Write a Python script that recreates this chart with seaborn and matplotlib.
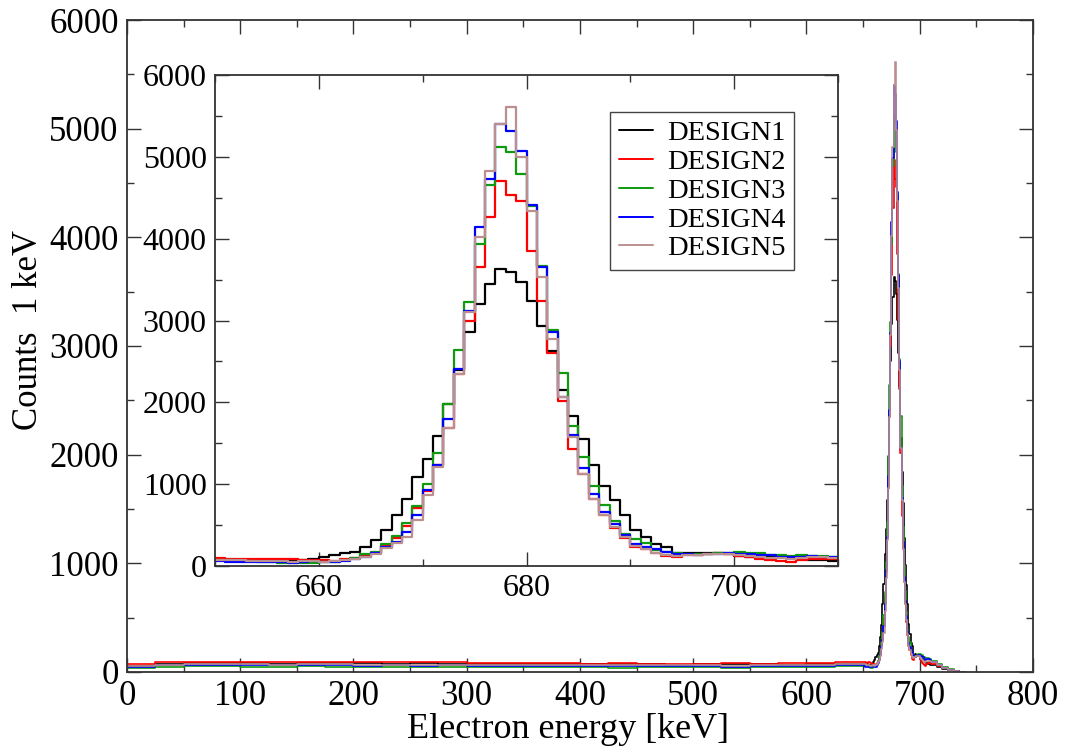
import numpy as np
import pandas as pd
import matplotlib
matplotlib.use("Agg")
import matplotlib.pyplot as plt
from matplotlib.lines import Line2D
from matplotlib.ticker import MultipleLocator
import seaborn as sns

# ---------------- data ----------------
designs = ["DESIGN1", "DESIGN2", "DESIGN3", "DESIGN4", "DESIGN5"]
colors = ["#000000", "#ff0000", "#0f9a0f", "#0000ff", "#bc8f8f"]

# coarse baseline, 25 keV bins from 0 to 650 keV (counts per keV)
base_edges = list(range(0, 651, 25))
base_d1 = [55, 75, 80, 82, 80, 78, 80, 82, 80, 78, 80, 78, 75, 75, 72, 70, 72, 70, 70, 68, 70, 72, 70, 68, 70, 72]
base_d2 = [70, 90, 95, 92, 95, 90, 92, 95, 90, 88, 90, 88, 85, 82, 80, 80, 78, 80, 78, 75, 78, 80, 78, 82, 85, 90]
base_d3 = [40, 50, 55, 52, 50, 48, 52, 50, 48, 45, 50, 48, 45, 45, 42, 45, 42, 40, 42, 45, 42, 40, 45, 42, 45, 55]
base_d4 = [50, 62, 65, 62, 60, 62, 60, 62, 58, 60, 58, 60, 55, 58, 55, 55, 52, 55, 52, 55, 52, 50, 55, 52, 55, 60]
base_d5 = [52, 68, 72, 70, 70, 68, 70, 72, 68, 66, 68, 66, 65, 62, 62, 60, 62, 60, 60, 62, 60, 58, 60, 62, 65, 70]

# fine region, 1 keV bins from 650 to 710 keV
fine_edges = list(range(650, 711))
fine_d1 = [78, 75, 72, 70, 68, 65, 62, 70, 75, 90,
           114, 134, 154, 175, 236, 320, 435, 622, 813, 1089,
           1313, 1585, 1975, 2400, 2858, 3200, 3447, 3631, 3598, 3476,
           3240, 2931, 2633, 2154, 1837, 1553, 1232, 980, 805, 622,
           439, 350, 268, 236, 154, 160, 163, 158, 154, 146,
           122, 114, 122, 114, 106, 93, 85, 73, 73, 65]
fine_d2 = [95, 90, 92, 85, 88, 90, 85, 80, 75, 70,
           70, 65, 80, 100, 134, 160, 250, 340, 490, 703,
           920, 1230, 1690, 2350, 3000, 3651, 4268, 4708, 4533, 4463,
           3846, 3236, 2602, 2012, 1435, 1130, 825, 622, 459, 337,
           236, 203, 154, 122, 114, 134, 134, 146, 154, 146,
           122, 105, 85, 75, 65, 55, 70, 80, 90, 85]
fine_d3 = [70, 68, 65, 60, 55, 45, 40, 38, 40, 42,
           45, 55, 70, 100, 146, 175, 268, 366, 527, 732,
           1008, 1378, 1984, 2643, 3224, 3936, 4655, 5122, 5053, 4789,
           4394, 3663, 2883, 2358, 1707, 1333, 980, 744, 553, 386,
           325, 276, 195, 175, 154, 150, 145, 150, 155, 165,
           170, 160, 155, 140, 135, 125, 130, 125, 120, 115]
fine_d4 = [60, 55, 50, 50, 45, 50, 45, 42, 55, 60,
           45, 50, 60, 80, 114, 155, 236, 297, 419, 622,
           935, 1240, 1801, 2411, 3122, 4138, 4728, 5398, 5317, 5073,
           4414, 3651, 2858, 2065, 1605, 1199, 874, 655, 512, 378,
           270, 230, 203, 175, 146, 146, 134, 150, 146, 160,
           150, 146, 140, 134, 110, 110, 115, 118, 115, 112]
fine_d5 = [75, 72, 70, 65, 62, 60, 58, 55, 60, 62,
           55, 60, 70, 90, 110, 146, 215, 276, 358, 561,
           866, 1211, 1691, 2350, 3100, 4016, 4829, 5398, 5614, 4992,
           4333, 3537, 2777, 2065, 1580, 1130, 825, 622, 480, 350,
           240, 205, 165, 140, 125, 135, 140, 150, 150, 150,
           130, 120, 110, 100, 95, 90, 100, 105, 105, 100]

# tail, 5 keV bins from 710 to 740 keV
tail_edges = list(range(710, 741, 5))
tail_d1 = [60, 45, 30, 18, 8, 2]
tail_d2 = [75, 55, 35, 20, 8, 2]
tail_d3 = [100, 70, 45, 25, 10, 3]
tail_d4 = [95, 65, 40, 22, 9, 3]
tail_d5 = [90, 60, 40, 22, 9, 3]

base = [base_d1, base_d2, base_d3, base_d4, base_d5]
fine = [fine_d1, fine_d2, fine_d3, fine_d4, fine_d5]
tail = [tail_d1, tail_d2, tail_d3, tail_d4, tail_d5]

# ---------------- style ----------------
sns.set_style("white")
plt.rcParams["font.family"] = ["Liberation Serif", "DejaVu Serif"]
plt.rcParams["text.color"] = "black"
plt.rcParams["axes.labelcolor"] = "black"
plt.rcParams["xtick.color"] = "black"
plt.rcParams["ytick.color"] = "black"

fig = plt.figure(figsize=(10.67, 7.52), dpi=100)
ax = fig.add_axes([0.119, 0.1064, 0.849, 0.867])
axin = fig.add_axes([0.2015, 0.2473, 0.5839, 0.653])


def draw(a, edges, vals, color, lw):
    e = np.asarray(edges, dtype=float)
    df = pd.DataFrame({"energy": (e[:-1] + e[1:]) / 2, "counts": np.asarray(vals, dtype=float)})
    sns.histplot(data=df, x="energy", weights="counts", bins=[float(v) for v in e],
                 element="step", fill=False, color=color, linewidth=lw, ax=a)


all_edges = base_edges[:-1] + fine_edges[:-1] + tail_edges
for i in range(5):
    vals = base[i] + fine[i] + tail[i]
    draw(ax, all_edges, vals, colors[i], 1.2)
    draw(axin, fine_edges, fine[i], colors[i], 1.6)


def style_axes(a, fs, xmaj, xmin, ymaj, ymin):
    a.xaxis.set_major_locator(MultipleLocator(xmaj))
    a.xaxis.set_minor_locator(MultipleLocator(xmin))
    a.yaxis.set_major_locator(MultipleLocator(ymaj))
    a.yaxis.set_minor_locator(MultipleLocator(ymin))
    a.tick_params(which="both", direction="in", top=True, right=True,
                  bottom=True, left=True, width=1.0, color="#333333",
                  labelcolor="black")
    a.tick_params(which="major", length=10, labelsize=fs, pad=6)
    a.tick_params(which="minor", length=5)
    for s in a.spines.values():
        s.set_linewidth(1.3)
        s.set_color("#333333")
    a.set_facecolor("white")


ax.set_xlim(0, 800)
ax.set_ylim(0, 6000)
style_axes(ax, 25, 100, 50, 1000, 500)
ax.set_xlabel("Electron energy [keV]", fontsize=26, labelpad=0, color="black")
ax.set_ylabel("Counts  1 keV", fontsize=25, color="black")
ax.xaxis.label.set_x(0.487)
ax.yaxis.set_label_coords(-0.091, 0.5245)

axin.set_xlim(650, 710)
axin.set_ylim(0, 6000)
style_axes(axin, 23, 20, 10, 1000, 500)
axin.set_xlabel("")
axin.set_ylabel("")

handles = [Line2D([0], [0], color=c, lw=1.4) for c in colors]
leg = axin.legend(handles, designs, loc="upper left", bbox_to_anchor=(0.634, 0.925),
                  borderaxespad=0, fontsize=20.5, frameon=True, fancybox=False,
                  framealpha=1, edgecolor="#444444", handlelength=1.2,
                  handletextpad=0.5, labelspacing=0.1, borderpad=0.3)
leg.get_frame().set_linewidth(1.0)
for t in leg.get_texts():
    t.set_color("black")

fig.savefig("out.png", dpi=100)
